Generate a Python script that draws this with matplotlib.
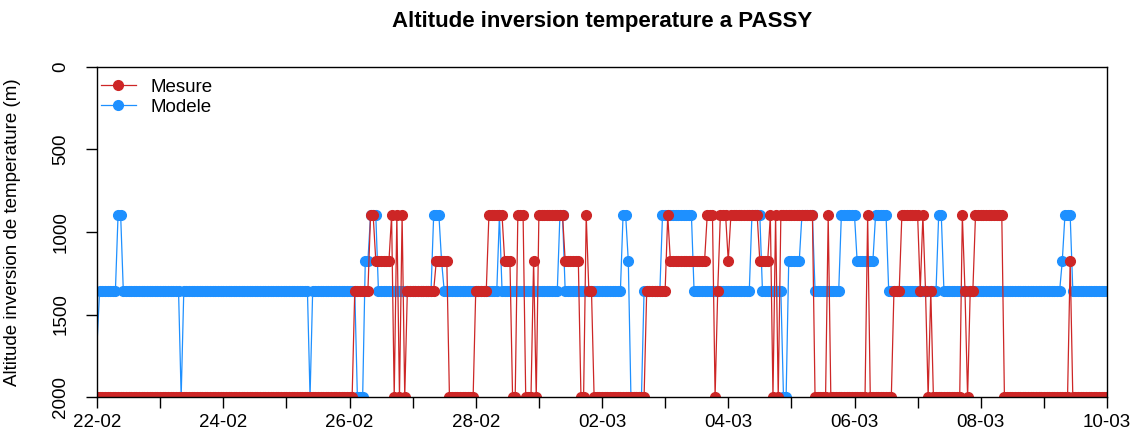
import numpy as np
import pandas as pd
import matplotlib
matplotlib.use("Agg")
import matplotlib.pyplot as plt
from matplotlib.lines import Line2D

plt.rcParams['font.family'] = ['Liberation Sans', 'DejaVu Sans']

# altitude d'inversion (m): heure de debut de chaque palier et niveau
modele_debut = [0, 1, 8, 10, 32, 33, 81, 82, 99, 102, 104, 107, 128, 131, 132, 153, 154, 176, 178, 200,
                202, 203, 208, 215, 227, 249, 253, 261, 263, 268, 273, 283, 289, 296, 301, 320, 322, 367, 368, 371]
modele_niveau = [1680, 1355, 900, 1355, 2000, 1355, 2000, 1355, 2000, 1175, 900, 1355, 900, 1175, 1355, 900, 1355, 900, 1355, 900,
                 1175, 2000, 1355, 900, 1355, 900, 1355, 2000, 1175, 900, 1355, 900, 1175, 900, 1355, 900, 1355, 1175, 900, 1355]

mesure_debut = [0, 98, 104, 106, 112, 113, 114, 115, 116, 117, 118, 129, 134, 144, 149, 155, 158, 160, 163, 166,
                167, 168, 178, 184, 186, 187, 189, 209, 217, 218, 232, 235, 236, 237, 240, 241, 252, 256, 257, 258,
                259, 260, 273, 278, 279, 293, 294, 303, 306, 313, 314, 315, 316, 317, 318, 329, 330, 331, 332, 334,
                345, 370, 371]
mesure_niveau = [2000, 1355, 900, 1175, 900, 2000, 900, 2000, 900, 2000, 1355, 1175, 2000, 1355, 900, 1175, 2000, 900, 2000, 1175,
                 2000, 900, 1175, 2000, 900, 1355, 2000, 1355, 900, 1175, 900, 2000, 1355, 900, 1175, 900, 1175, 900, 2000, 900,
                 2000, 900, 2000, 900, 2000, 900, 2000, 1355, 900, 1355, 900, 1355, 2000, 1355, 2000, 900, 1355, 2000, 1355, 900,
                 2000, 1175, 2000]

n_heures = 385
temps = pd.date_range("2021-02-22", periods=n_heures, freq="h")

modele = np.repeat(modele_niveau, np.diff(modele_debut + [n_heures]))
mesure = np.repeat(mesure_niveau, np.diff(mesure_debut + [n_heures]))

rouge = "#CD2626"
bleu = "#1E90FF"
fs = 13.5

fig = plt.figure(figsize=(11.33, 4.36), dpi=100)
ax = fig.add_axes([97 / 1133, 1 - 397 / 436, 1010 / 1133, 330 / 436])

# pas de point sur la premiere valeur du modele (comme sur l'original)
ax.plot(temps, modele, color=bleu, lw=0.9, marker="o", ms=7, mec=bleu, markevery=slice(1, None))
ax.plot(temps, mesure, color=rouge, lw=0.9, marker="o", ms=7, mec=rouge)

ax.set_ylim(2000, 0)
ax.set_xlim(pd.Timestamp("2021-02-22"), pd.Timestamp("2021-03-10"))
ax.set_yticks([0, 500, 1000, 1500, 2000])
ax.set_yticklabels(["0", "500", "1000", "1500", "2000"], rotation=90, va="center")

jours = pd.date_range("2021-02-22", "2021-03-10", freq="D")
ax.set_xticks(jours)
ax.set_xticklabels([d.strftime("%d-%m") if i % 2 == 0 else "" for i, d in enumerate(jours)])

ax.tick_params(direction="out", length=8, width=1, labelsize=fs)
ax.tick_params(axis="y", pad=12)
ax.tick_params(axis="x", pad=4.5)
for s in ax.spines.values():
    s.set_linewidth(1)

ax.set_ylabel("Altitude inversion de temperature (m)", fontsize=fs)
ax.yaxis.set_label_coords(-0.075, 0.5)
fig.text(602 / 1133, 1 - 22 / 436, "Altitude inversion temperature a PASSY",
         fontsize=16, fontweight="bold", ha="center", va="center")

handles = [Line2D([], [], color=rouge, lw=0.9, marker="o", ms=7),
           Line2D([], [], color=bleu, lw=0.9, marker="o", ms=7)]
ax.legend(handles, ["Mesure", "Modele"], loc="upper left", bbox_to_anchor=(0, 0.976),
          frameon=False, fontsize=fs, borderpad=0.2, borderaxespad=0,
          handlelength=1.87, handletextpad=0.8, labelspacing=0.15)

fig.savefig("out.png", dpi=100)
